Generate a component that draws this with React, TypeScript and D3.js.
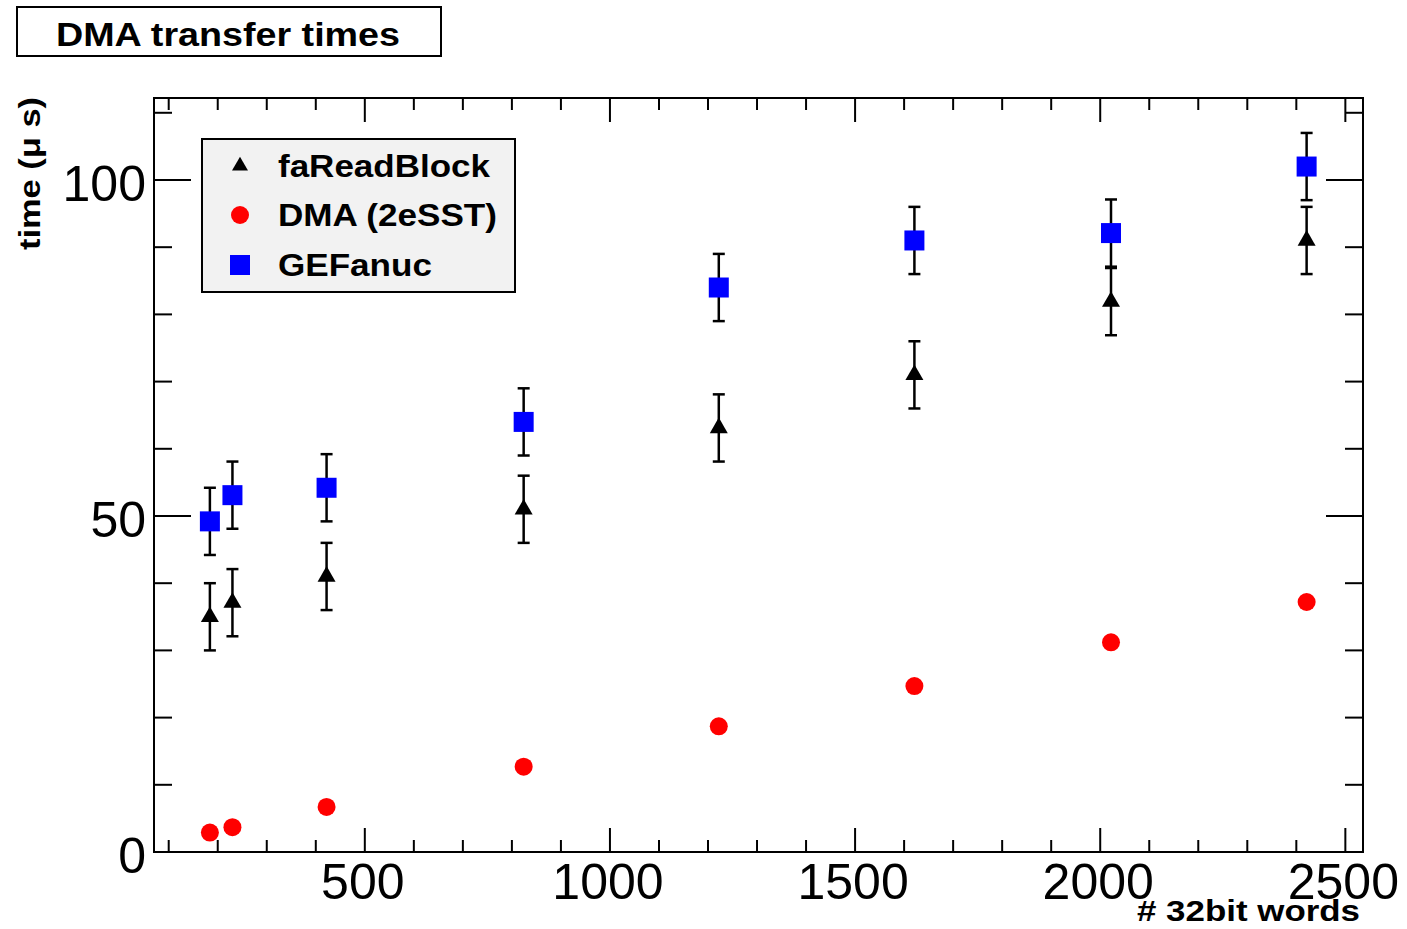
import { useEffect, useRef } from "react";
import * as d3 from "d3";

// # 32bit words for each measurement
const words = [184, 230, 422, 824, 1222, 1621, 2022, 2421];
// times in microseconds
const faReadBlock = [35.0, 37.1, 41.0, 51.0, 63.1, 71.0, 81.9, 91.0];
const faReadBlockErr = [5, 5, 5, 5, 5, 5, 5, 5];
const dma2eSST = [2.9, 3.7, 6.7, 12.7, 18.7, 24.7, 31.2, 37.2];
const geFanuc = [49.2, 53.1, 54.2, 64.0, 84.0, 91.0, 92.1, 102.0];
const geFanucErr = [5, 5, 5, 5, 5, 5, 5, 5];

const xTickLabels = [500, 1000, 1500, 2000, 2500];
const yTickLabels = [0, 50, 100];
const legendLabels = ["faReadBlock", "DMA (2eSST)", "GEFanuc"];
const legendWidths = [212, 219, 154];

const FONT = "'Liberation Sans', Arial, Helvetica, sans-serif";

const App = () => {
    const container = useRef<SVGSVGElement>(null);

    useEffect(() => {
        document.body.style.margin = "0";
        const svg = d3.select(container.current);
        svg.selectAll("*").remove();

        const left = 154, right = 1363, top = 98, bottom = 852;

        const x = d3.scaleLinear().domain([70, 2536]).range([left, right]);
        const y = d3.scaleLinear().domain([0, 112.2]).range([bottom, top]);

        // title box
        svg.append("rect")
            .attr("x", 17).attr("y", 7).attr("width", 424).attr("height", 49)
            .attr("fill", "white").attr("stroke", "black").attr("stroke-width", 2);
        svg.append("text")
            .attr("x", 56).attr("y", 46)
            .attr("textLength", 344).attr("lengthAdjust", "spacingAndGlyphs")
            .style("font-family", FONT).style("font-weight", "bold").style("font-size", "34px")
            .text("DMA transfer times");

        // frame
        svg.append("rect")
            .attr("x", left).attr("y", top).attr("width", right - left).attr("height", bottom - top)
            .attr("fill", "none").attr("stroke", "black").attr("stroke-width", 2);

        const ticks = svg.append("g").attr("stroke", "black").attr("stroke-width", 2);

        // x ticks, bottom and top
        d3.range(100, 2501, 100).forEach((v) => {
            const len = v % 500 === 0 ? 24 : 12;
            ticks.append("line").attr("x1", x(v)).attr("x2", x(v)).attr("y1", bottom).attr("y2", bottom - len);
            ticks.append("line").attr("x1", x(v)).attr("x2", x(v)).attr("y1", top).attr("y2", top + len);
        });
        // y ticks, left and right
        d3.range(0, 111, 10).forEach((v) => {
            const len = v % 50 === 0 ? 37 : 18;
            ticks.append("line").attr("x1", left).attr("x2", left + len).attr("y1", y(v)).attr("y2", y(v));
            ticks.append("line").attr("x1", right).attr("x2", right - len).attr("y1", y(v)).attr("y2", y(v));
        });

        svg.selectAll("text.xlab")
            .data(xTickLabels)
            .join("text")
            .attr("class", "xlab")
            .attr("x", (d) => x(d) - 2).attr("y", bottom + 47)
            .attr("text-anchor", "middle")
            .style("font-family", FONT).style("font-size", "50px")
            .text((d) => d);

        svg.selectAll("text.ylab")
            .data(yTickLabels)
            .join("text")
            .attr("class", "ylab")
            .attr("x", left - 8).attr("y", (d) => y(d) + 21)
            .attr("text-anchor", "end")
            .style("font-family", FONT).style("font-size", "50px")
            .text((d) => d);

        // axis titles
        svg.append("text")
            .attr("x", 1137).attr("y", 921)
            .attr("textLength", 223).attr("lengthAdjust", "spacingAndGlyphs")
            .style("font-family", FONT).style("font-weight", "bold").style("font-size", "29px")
            .text("# 32bit words");
        svg.append("text")
            .attr("transform", "translate(40, 250) rotate(-90)")
            .attr("textLength", 153).attr("lengthAdjust", "spacingAndGlyphs")
            .style("font-family", FONT).style("font-weight", "bold").style("font-size", "30px")
            .text("time (\u03bc s)");

        // error bars
        const errorBars = (vals: number[], errs: number[]) => {
            const g = svg.append("g").attr("stroke", "black").attr("stroke-width", 2.5);
            vals.forEach((v, i) => {
                const cx = x(words[i]);
                const y0 = y(v - errs[i]), y1 = y(v + errs[i]);
                g.append("line").attr("x1", cx).attr("x2", cx).attr("y1", y0).attr("y2", y1);
                g.append("line").attr("x1", cx - 6).attr("x2", cx + 6).attr("y1", y0).attr("y2", y0);
                g.append("line").attr("x1", cx - 6).attr("x2", cx + 6).attr("y1", y1).attr("y2", y1);
            });
        };
        errorBars(geFanuc, geFanucErr);
        errorBars(faReadBlock, faReadBlockErr);

        const triangle = d3.symbol().type(d3.symbolTriangle).size(140);

        svg.selectAll("path.tri")
            .data(faReadBlock)
            .join("path")
            .attr("class", "tri")
            .attr("transform", (d, i) => `translate(${x(words[i])}, ${y(d)})`)
            .attr("d", triangle)
            .attr("fill", "black");

        svg.selectAll("circle.dma")
            .data(dma2eSST)
            .join("circle")
            .attr("class", "dma")
            .attr("cx", (d, i) => x(words[i]))
            .attr("cy", (d) => y(d))
            .attr("r", 9)
            .attr("fill", "red");

        svg.selectAll("rect.ge")
            .data(geFanuc)
            .join("rect")
            .attr("class", "ge")
            .attr("x", (d, i) => x(words[i]) - 10)
            .attr("y", (d) => y(d) - 10)
            .attr("width", 20).attr("height", 20)
            .attr("fill", "blue");

        // legend
        const legend = svg.append("g");
        legend.append("rect")
            .attr("x", 202).attr("y", 139).attr("width", 313).attr("height", 153)
            .attr("fill", "#f2f2f2").attr("stroke", "black").attr("stroke-width", 2);
        const rows = [166, 215, 265];
        legend.append("path")
            .attr("transform", `translate(240, ${rows[0]})`)
            .attr("d", d3.symbol().type(d3.symbolTriangle).size(110)).attr("fill", "black");
        legend.append("circle").attr("cx", 240).attr("cy", rows[1]).attr("r", 9).attr("fill", "red");
        legend.append("rect").attr("x", 230).attr("y", rows[2] - 10).attr("width", 20).attr("height", 20).attr("fill", "blue");
        legendLabels.forEach((t, i) => {
            legend.append("text")
                .attr("x", 278).attr("y", rows[i] + 11)
                .attr("textLength", legendWidths[i]).attr("lengthAdjust", "spacingAndGlyphs")
                .style("font-family", FONT).style("font-weight", "bold").style("font-size", "31px")
                .text(t);
        });
    }, []);

    return (
        <svg ref={container} width={1407} height={929} style={{ display: "block", background: "white" }}></svg>
    );
};

export default App;
